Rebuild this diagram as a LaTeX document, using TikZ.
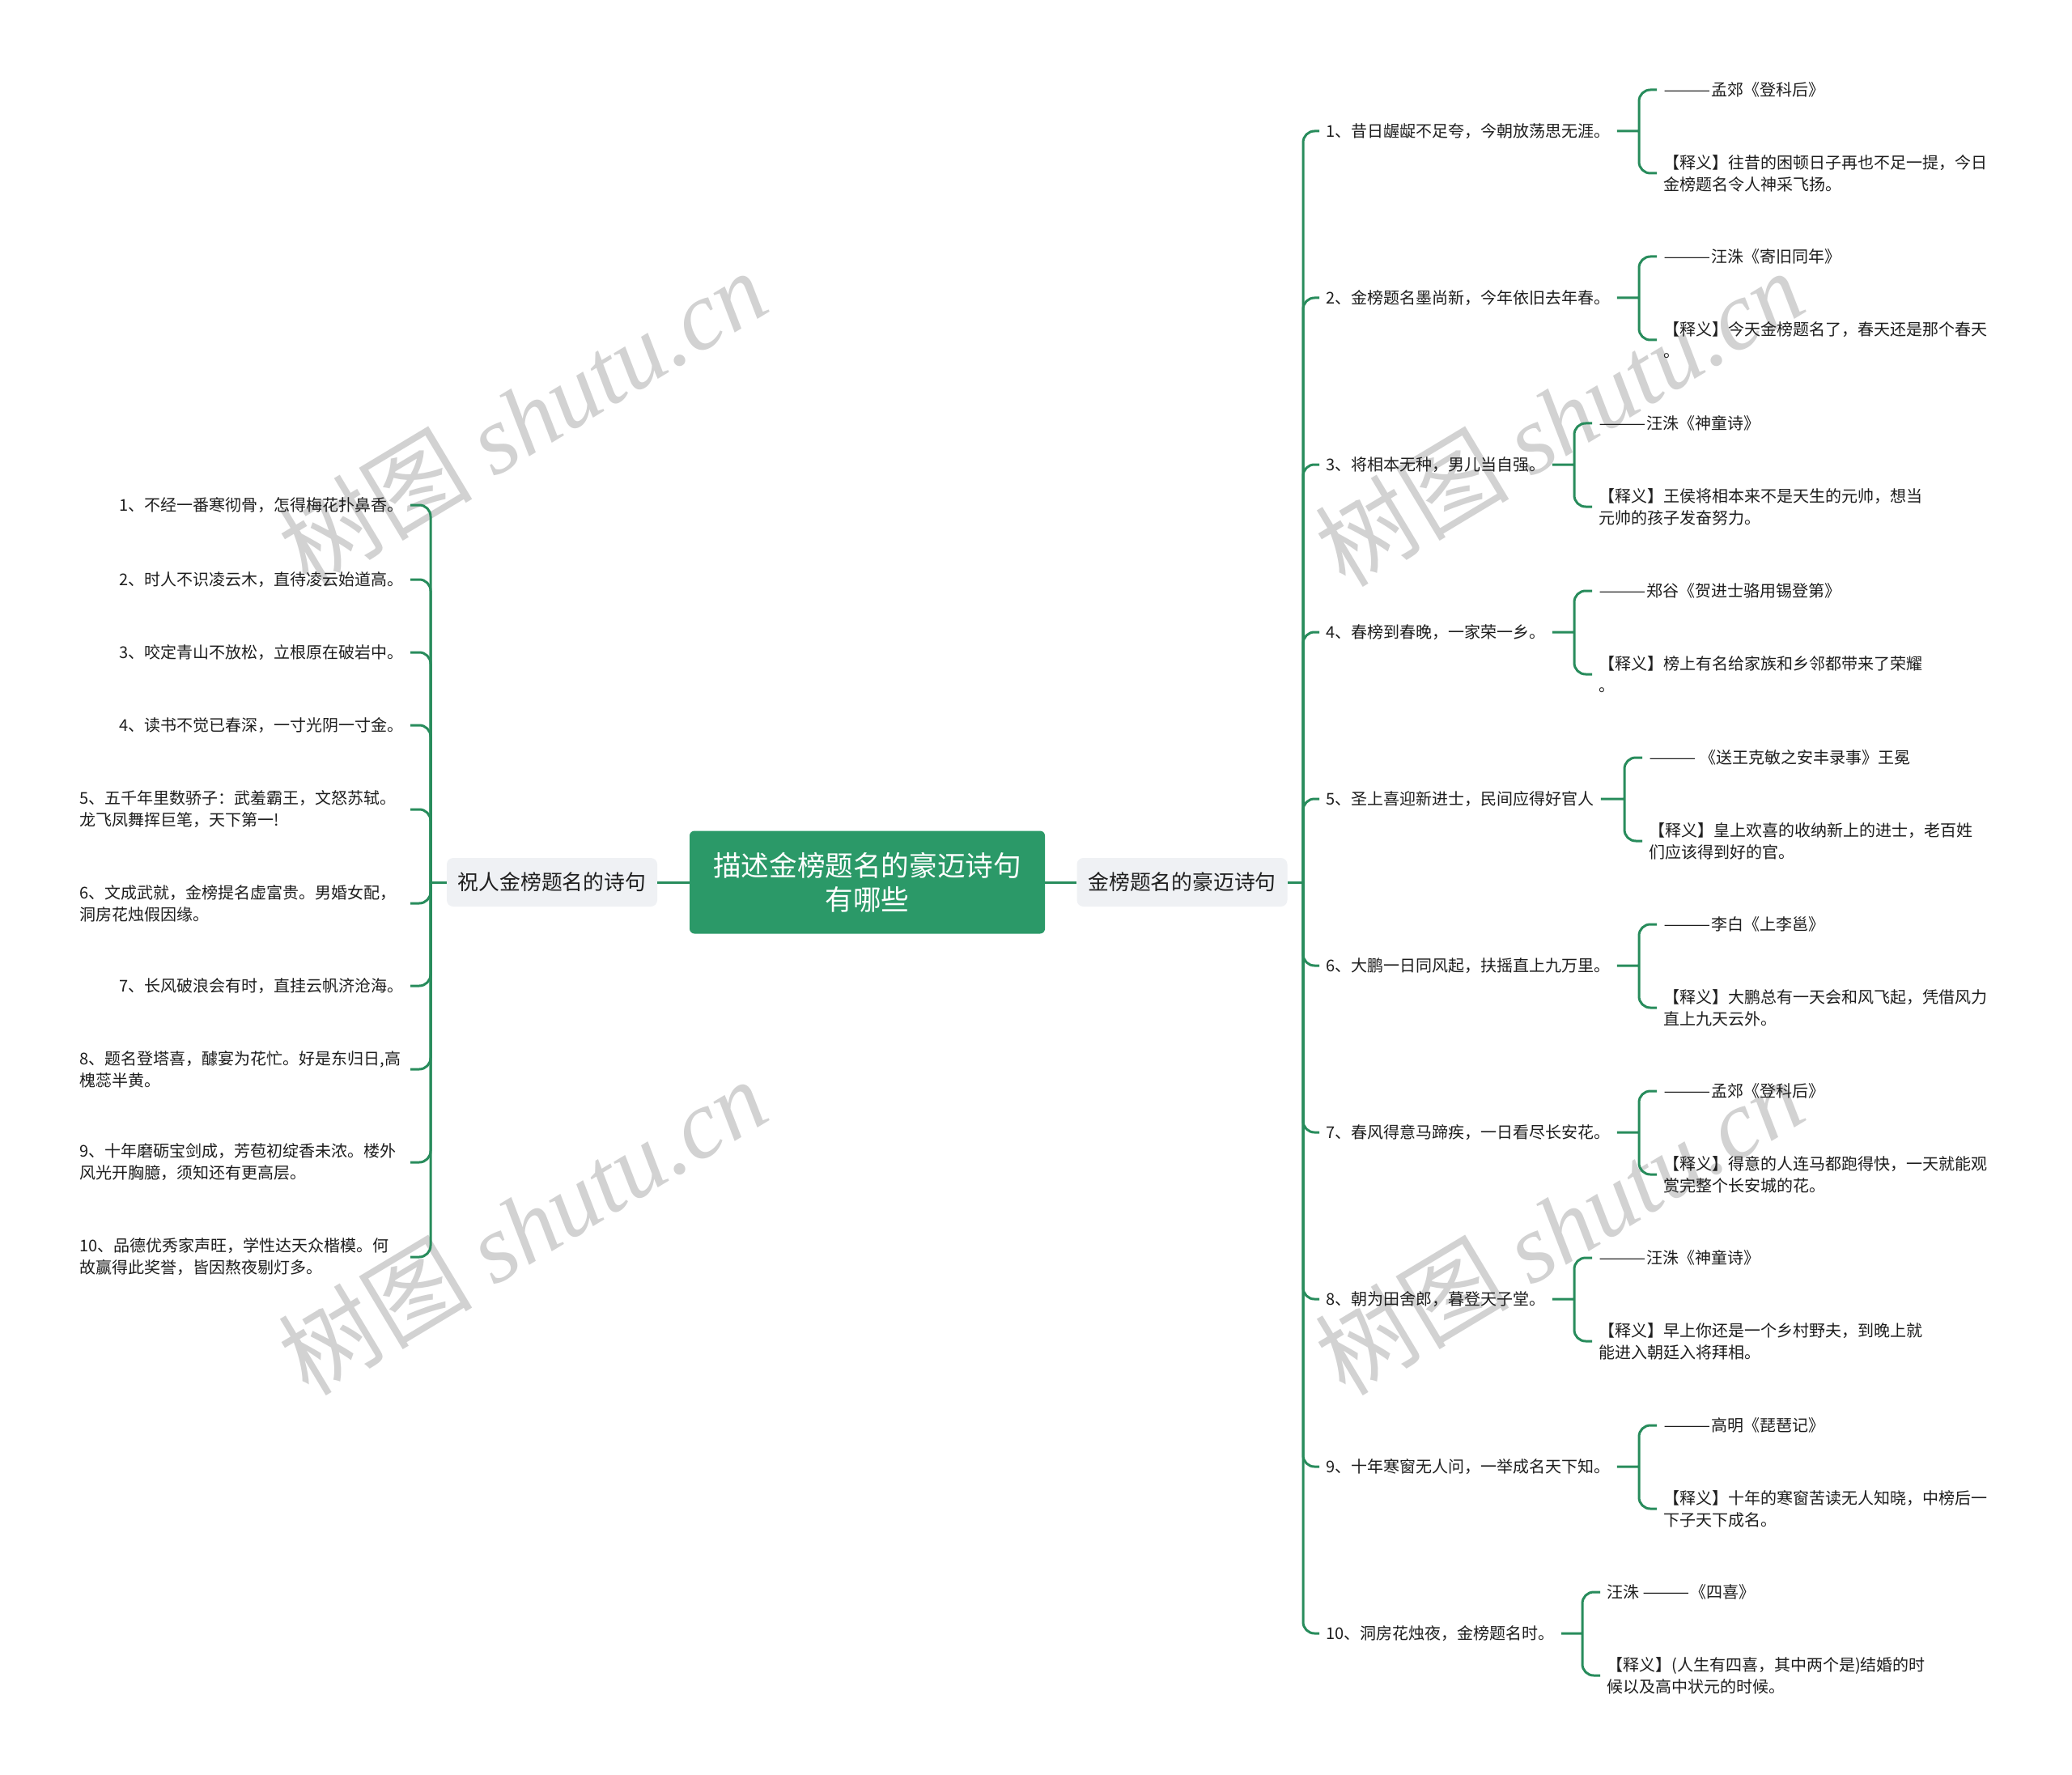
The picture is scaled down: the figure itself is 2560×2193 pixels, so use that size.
\documentclass[tikz,border=0pt]{standalone}
\usepackage{xcolor}
\usepackage{fontspec}
\usepackage{tikz}
\setmainfont{Noto Sans CJK SC}
\newfontfamily\wmlatin{Liberation Serif}

\definecolor{mapgreen}{RGB}{40,140,92}
\definecolor{rootgreen}{RGB}{43,153,104}
\definecolor{topicgray}{RGB}{239,241,244}
\definecolor{wmgray}{RGB}{210,210,210}
\definecolor{leafink}{RGB}{30,30,30}

% the dash before an author reads about three characters long
\newcommand{\bardash}{\scalebox{1.75}[1]{——}}

\tikzset{
    root/.style={fill=rootgreen, rounded corners=3pt, minimum width=219.5pt, minimum height=63.5pt,
        text=white, align=center, font=\fontsize{17.3}{21}\selectfont},
    topic/.style={fill=topicgray, rounded corners=4pt, minimum width=130pt, minimum height=30pt,
        text=leafink, font=\fontsize{12.9}{15}\selectfont},
    leaf/.style={text=leafink, inner sep=4pt, font=\fontsize{10}{13.5}\selectfont},
    leafwide/.style={leaf, text width=200pt, align=left},
    note/.style={leaf, align=left, anchor=west},
    link/.style={draw=mapgreen, line width=1.5pt, rounded corners=7pt},
    wmark/.style={text=wmgray, inner sep=0pt, rotate=31, font=\fontsize{60}{60}\selectfont}
}

\begin{document}
\begin{tikzpicture}[x=0.5pt, y=-0.5pt]
    \fill[white] (0, 0) rectangle (2560, 2193);
    \useasboundingbox (0, 0) rectangle (2560, 2193);

    % watermarks
    \node[wmark] at (645, 516) (wm1) {树图 {\wmlatin\itshape shutu.cn}};
    \node[wmark] at (645, 1515) (wm2) {树图 {\wmlatin\itshape shutu.cn}};
    \node[wmark] at (1926, 516) (wm3) {树图 {\wmlatin\itshape shutu.cn}};
    \node[wmark] at (1926, 1515) (wm4) {树图 {\wmlatin\itshape shutu.cn}};

    \node[root] at (1071.5, 1090) (root) {描述金榜题名的豪迈诗句\\有哪些};
    \node[topic] at (682, 1090) (lmain) {祝人金榜题名的诗句};
    \node[topic] at (1460.5, 1090) (rmain) {金榜题名的豪迈诗句};

    \coordinate (lj) at (532, 1090);
    \coordinate (rj) at (1610, 1090);

    % left branch
    \node[leaf, anchor=east] at (507, 624) (l1) {1、不经一番寒彻骨，怎得梅花扑鼻香。};
    \node[leaf, anchor=east] at (507, 716) (l2) {2、时人不识凌云木，直待凌云始道高。};
    \node[leaf, anchor=east] at (507, 806) (l3) {3、咬定青山不放松，立根原在破岩中。};
    \node[leaf, anchor=east] at (507, 896) (l4) {4、读书不觉已春深，一寸光阴一寸金。};
    \node[leafwide, anchor=east] at (507, 1000) (l5) {5、五千年里数骄子：武羞霸王，文怒苏轼。\\龙飞凤舞挥巨笔，天下第一!};
    \node[leafwide, anchor=east] at (507, 1116) (l6) {6、文成武就，金榜提名虚富贵。男婚女配，\\洞房花烛假因缘。};
    \node[leaf, anchor=east] at (507, 1218) (l7) {7、长风破浪会有时，直挂云帆济沧海。};
    \node[leafwide, anchor=east] at (507, 1321) (l8) {8、题名登塔喜，醵宴为花忙。好是东归日,高\\槐蕊半黄。};
    \node[leafwide, anchor=east] at (507, 1436) (l9) {9、十年磨砺宝剑成，芳苞初绽香未浓。楼外\\风光开胸臆，须知还有更高层。};
    \node[leafwide, anchor=east] at (507, 1553) (l10) {10、品德优秀家声旺，学性达天众楷模。何\\故赢得此奖誉，皆因熬夜剔灯多。};

    % right branch
    \node[leaf, anchor=west] at (1630, 162) (r1) {1、昔日龌龊不足夸，今朝放荡思无涯。};
    \node[leaf, anchor=west] at (1630, 368) (r2) {2、金榜题名墨尚新，今年依旧去年春。};
    \node[leaf, anchor=west] at (1630, 574) (r3) {3、将相本无种，男儿当自强。};
    \node[leaf, anchor=west] at (1630, 781) (r4) {4、春榜到春晚，一家荣一乡。};
    \node[leaf, anchor=west] at (1630, 987) (r5) {5、圣上喜迎新进士，民间应得好官人};
    \node[leaf, anchor=west] at (1630, 1193) (r6) {6、大鹏一日同风起，扶摇直上九万里。};
    \node[leaf, anchor=west] at (1630, 1399) (r7) {7、春风得意马蹄疾，一日看尽长安花。};
    \node[leaf, anchor=west] at (1630, 1605) (r8) {8、朝为田舍郎，暮登天子堂。};
    \node[leaf, anchor=west] at (1630, 1812) (r9) {9、十年寒窗无人问，一举成名天下知。};
    \node[leaf, anchor=west] at (1630, 2018) (r10) {10、洞房花烛夜，金榜题名时。};

    \coordinate (r1j) at (2025, 162);
    \coordinate (r2j) at (2025, 368);
    \coordinate (r3j) at (1945, 574);
    \coordinate (r4j) at (1945, 781);
    \coordinate (r5j) at (2007, 987);
    \coordinate (r6j) at (2025, 1193);
    \coordinate (r7j) at (2025, 1399);
    \coordinate (r8j) at (1945, 1605);
    \coordinate (r9j) at (2025, 1812);
    \coordinate (r10j) at (1955, 2018);

    \node[note] at (2047, 111) (r1a) {\bardash 孟郊《登科后》};
    \node[note] at (2047, 214) (r1m) {【释义】往昔的困顿日子再也不足一提，今日\\金榜题名令人神采飞扬。};
    \node[note] at (2047, 317) (r2a) {\bardash 汪洙《寄旧同年》};
    \node[note] at (2047, 420) (r2m) {【释义】今天金榜题名了，春天还是那个春天\\。};
    \node[note] at (1967, 523) (r3a) {\bardash 汪洙《神童诗》};
    \node[note] at (1967, 626) (r3m) {【释义】王侯将相本来不是天生的元帅，想当\\元帅的孩子发奋努力。};
    \node[note] at (1967, 730) (r4a) {\bardash 郑谷《贺进士骆用锡登第》};
    \node[note] at (1967, 833) (r4m) {【释义】榜上有名给家族和乡邻都带来了荣耀\\。};
    \node[note] at (2029, 936) (r5a) {\bardash\ 《送王克敏之安丰录事》王冕};
    \node[note] at (2029, 1039) (r5m) {【释义】皇上欢喜的收纳新上的进士，老百姓\\们应该得到好的官。};
    \node[note] at (2047, 1142) (r6a) {\bardash 李白《上李邕》};
    \node[note] at (2047, 1245) (r6m) {【释义】大鹏总有一天会和风飞起，凭借风力\\直上九天云外。};
    \node[note] at (2047, 1348) (r7a) {\bardash 孟郊《登科后》};
    \node[note] at (2047, 1451) (r7m) {【释义】得意的人连马都跑得快，一天就能观\\赏完整个长安城的花。};
    \node[note] at (1967, 1554) (r8a) {\bardash 汪洙《神童诗》};
    \node[note] at (1967, 1657) (r8m) {【释义】早上你还是一个乡村野夫，到晚上就\\能进入朝廷入将拜相。};
    \node[note] at (2047, 1761) (r9a) {\bardash 高明《琵琶记》};
    \node[note] at (2047, 1864) (r9m) {【释义】十年的寒窗苦读无人知晓，中榜后一\\下子天下成名。};
    \node[note] at (1977, 1967) (r10a) {汪洙 \bardash 《四喜》};
    \node[note] at (1977, 2070) (r10m) {【释义】(人生有四喜，其中两个是)结婚的时\\候以及高中状元的时候。};

    \draw[link] (lmain.east) -- (root.west);
    \draw[link] (root.east) -- (rmain.west);
    \draw[link] (lmain.west) -- (lj);
    \draw[link] (rmain.east) -- (rj);

    \draw[link] (lj) |- (l1.east);
    \draw[link] (lj) |- (l2.east);
    \draw[link] (lj) |- (l3.east);
    \draw[link] (lj) |- (l4.east);
    \draw[link] (lj) |- (l5.east);
    \draw[link] (lj) |- (l6.east);
    \draw[link] (lj) |- (l7.east);
    \draw[link] (lj) |- (l8.east);
    \draw[link] (lj) |- (l9.east);
    \draw[link] (lj) |- (l10.east);

    \draw[link] (rj) |- (r1.west);
    \draw[link] (rj) |- (r2.west);
    \draw[link] (rj) |- (r3.west);
    \draw[link] (rj) |- (r4.west);
    \draw[link] (rj) |- (r5.west);
    \draw[link] (rj) |- (r6.west);
    \draw[link] (rj) |- (r7.west);
    \draw[link] (rj) |- (r8.west);
    \draw[link] (rj) |- (r9.west);
    \draw[link] (rj) |- (r10.west);

    \draw[link] (r1.east) -- (r1j) (r1a.west) -| (r1j) |- (r1m.west);
    \draw[link] (r2.east) -- (r2j) (r2a.west) -| (r2j) |- (r2m.west);
    \draw[link] (r3.east) -- (r3j) (r3a.west) -| (r3j) |- (r3m.west);
    \draw[link] (r4.east) -- (r4j) (r4a.west) -| (r4j) |- (r4m.west);
    \draw[link] (r5.east) -- (r5j) (r5a.west) -| (r5j) |- (r5m.west);
    \draw[link] (r6.east) -- (r6j) (r6a.west) -| (r6j) |- (r6m.west);
    \draw[link] (r7.east) -- (r7j) (r7a.west) -| (r7j) |- (r7m.west);
    \draw[link] (r8.east) -- (r8j) (r8a.west) -| (r8j) |- (r8m.west);
    \draw[link] (r9.east) -- (r9j) (r9a.west) -| (r9j) |- (r9m.west);
    \draw[link] (r10.east) -- (r10j) (r10a.west) -| (r10j) |- (r10m.west);
\end{tikzpicture}
\end{document}
